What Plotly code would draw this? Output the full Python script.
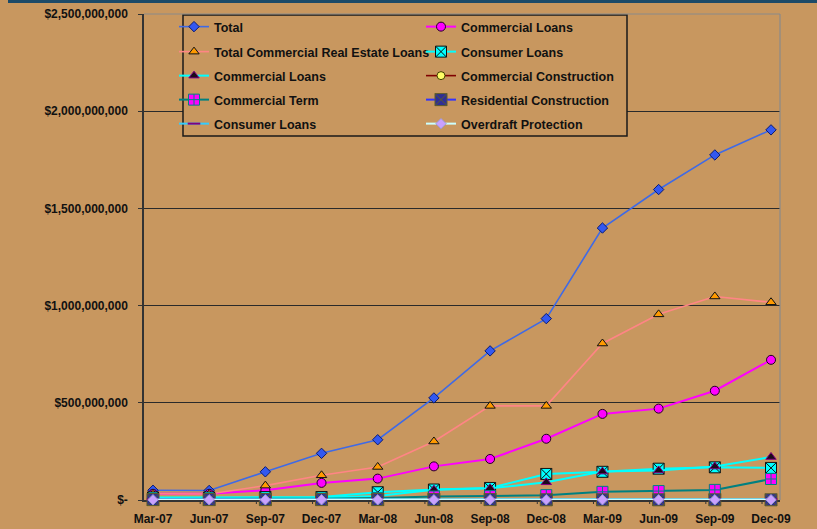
import plotly.graph_objects as go

# Quarter-end dates
quarters = ["Mar-07", "Jun-07", "Sep-07", "Dec-07", "Mar-08", "Jun-08",
            "Sep-08", "Dec-08", "Mar-09", "Jun-09", "Sep-09", "Dec-09"]

# Loan balances, millions of dollars
total = [50, 49, 145, 240, 310, 525, 767, 933, 1399, 1597, 1775, 1904]
commercial_loans = [32, 32, 50, 88, 110, 173, 211, 315, 443, 470, 562, 721]
total_cre = [32, 31, 74, 127, 170, 301, 484, 484, 805, 955, 1047, 1017]
consumer_loans = [13, 13, 15, 15, 40, 54, 62, 134, 145, 161, 168, 165]
commercial_loans_b = [8, 8, 10, 12, 20, 53, 60, 91, 146, 152, 172, 221]
commercial_construction = [0, 0, 0, 0, 0, 0, 0, 0, 0, 0, 0, 0]
commercial_term = [5, 5, 6, 7, 10, 18, 20, 25, 42, 46, 52, 108]
residential_construction = [2, 2, 2, 2, 2, 2, 2, 1, 1, 1, 1, 1]
consumer_loans_b = [3, 3, 3, 4, 4, 4, 4, 4, 4, 4, 4, 4]
overdraft = [1, 1, 1, 1, 1, 1, 1, 1, 1, 1, 1, 1]

# Axis labels
y_tick_values = [0, 500e6, 1000e6, 1500e6, 2000e6, 2500e6]
y_tick_text = ["$-", "$500,000,000", "$1,000,000,000", "$1,500,000,000",
               "$2,000,000,000", "$2,500,000,000"]

BG = "#C8975F"
FONT = "Liberation Sans, Arial, sans-serif"
MILLION = 1e6

series = [
    # name, values, line colour, line width, symbol, fill, outline, size, legend row
    ("Total", total, "#3F6AE6", 1.6, "diamond", "#3358F0", "#0A1A70", 8, 1),
    ("Commercial Loans", commercial_loans, "#FF00FF", 2, "circle", "#FF00FF", "#200020", 9, 1),
    ("Total Commercial Real Estate Loans", total_cre, "#FF8585", 1.6, "triangle-up", "#FF9A00", "#111111", 9, 2),
    ("Consumer Loans", consumer_loans, "#00FFFF", 2, "square-x", "#00FFFF", "#101010", 11, 2),
    ("Commercial Loans", commercial_loans_b, "#00FFFF", 2, "triangle-up", "#1A0A1A", "#800080", 9, 3),
    ("Commercial Construction", commercial_construction, "#800000", 1.6, "circle", "#FFFF66", "#404000", 8, 3),
    ("Commercial Term", commercial_term, "#008080", 2, "square-cross", "#FF00FF", "#008080", 11, 4),
    ("Residential Construction", residential_construction, "#3333FF", 2, "square-x", "#2E2E96", "#5C5C2A", 12, 4),
    ("Consumer Loans", consumer_loans_b, "#33CCFF", 2, "line-ew", "#800080", "#800080", 9, 5),
    ("Overdraft Protection", overdraft, "#CCFFFF", 2, "diamond", "#C9A0FF", "#9A9AD0", 8, 5),
]

fig = go.Figure()
for name, vals, lc, lw, sym, fill, outline, size, row in series:
    fig.add_trace(go.Scatter(
        x=quarters,
        y=[v * MILLION for v in vals],
        name=name,
        mode="lines+markers",
        line=dict(color=lc, width=lw),
        marker=dict(symbol=sym, color=fill, size=size,
                    line=dict(color=outline, width=2 if sym == "line-ew" else 1)),
        legend="legend" if row == 1 else f"legend{row}",
        cliponaxis=False,
        hoverinfo="x+y+name",
    ))

# Plot area geometry in pixels (used to place the legend rows)
W, H = 817, 529
ML, MR, MT, MB = 144, 37, 14, 29
PW, PH = W - ML - MR, H - MT - MB


def px_x(px):
    return (px - ML) / PW


def px_y(py):
    return (H - MB - py) / PH


legend_font = dict(family=FONT, size=12.5, color="#111111", weight="bold")
row_centres = [27, 52, 76, 100, 124]
legends = {}
for i, yc in enumerate(row_centres, start=1):
    key = "legend" if i == 1 else f"legend{i}"
    legends[key] = dict(
        orientation="h", x=px_x(174), xanchor="left",
        y=px_y(yc), yanchor="middle",
        bgcolor="rgba(0,0,0,0)", borderwidth=0,
        entrywidth=202, entrywidthmode="pixels",
        font=legend_font, itemwidth=30, traceorder="normal",
    )

shapes = []
# legend frame
shapes.append(dict(type="rect", xref="paper", yref="paper",
                   x0=px_x(183), x1=px_x(627), y0=px_y(136), y1=px_y(15),
                   line=dict(color="#1A1A1A", width=1.5), fillcolor=BG, layer="above"))
# grey frame on the top and right edges of the plot area
shapes.append(dict(type="line", xref="paper", yref="paper", x0=0, x1=1, y0=1, y1=1,
                   line=dict(color="#8A8A8A", width=1), layer="above"))
shapes.append(dict(type="line", xref="paper", yref="paper", x0=1, x1=1, y0=0, y1=1,
                   line=dict(color="#8A8A8A", width=1.2), layer="above"))
# category tick marks sit just left of each point
for i in range(1, len(quarters)):
    shapes.append(dict(type="line", xref="x", yref="paper",
                       x0=i - 0.16, x1=i - 0.16, y0=0, y1=-4 / PH,
                       line=dict(color="#333333", width=1)))
# dark band across the very top of the slide
shapes.append(dict(type="rect", xref="paper", yref="paper",
                   x0=px_x(8), x1=px_x(W), y0=px_y(3), y1=px_y(0),
                   line=dict(width=0), fillcolor="#1C4A68"))

fig.update_layout(
    width=W, height=H,
    margin=dict(l=ML, r=MR, t=MT, b=MB, autoexpand=False),
    paper_bgcolor=BG, plot_bgcolor=BG,
    font=dict(family=FONT, size=12, color="#111111"),
    showlegend=True,
    shapes=shapes,
    **legends,
)

fig.update_xaxes(
    type="category", range=[-0.16, len(quarters) - 1 + 0.16],
    showgrid=False, zeroline=False, automargin=False,
    showline=True, linecolor="#333333", linewidth=1.5, layer="below traces",
    ticks="", ticklabelstandoff=7,
    tickfont=dict(family=FONT, size=12, color="#111111", weight="bold"),
)
fig.update_yaxes(
    range=[0, 2500e6], tickvals=y_tick_values, ticktext=y_tick_text,
    showgrid=True, gridcolor="#2A2A2A", gridwidth=1, zeroline=False, automargin=False,
    showline=True, linecolor="#333333", linewidth=1.5,
    ticks="outside", ticklen=4, tickcolor="#333333", ticklabelstandoff=8,
    tickfont=dict(family=FONT, size=12, color="#111111", weight="bold"),
)

fig.write_html("out.html")
